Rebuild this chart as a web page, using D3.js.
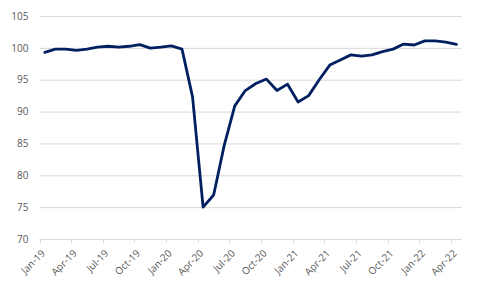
<!DOCTYPE html>
<html>
<head>
<meta charset="utf-8">
<script src="https://cdn.jsdelivr.net/npm/d3@7"></script>
<style>
    body { margin: 0; background: #fff; }
    text { font-family: "Open Sans", sans-serif; fill: #595959; }
</style>
</head>
<body>
<svg id="chart" width="482" height="293"></svg>
<script>
// Monthly index values, Jan-19 to Apr-22.
const months = ['Jan-19', 'Feb-19', 'Mar-19', 'Apr-19', 'May-19', 'Jun-19', 'Jul-19', 'Aug-19', 'Sep-19', 'Oct-19', 'Nov-19', 'Dec-19',
    'Jan-20', 'Feb-20', 'Mar-20', 'Apr-20', 'May-20', 'Jun-20', 'Jul-20', 'Aug-20', 'Sep-20', 'Oct-20', 'Nov-20', 'Dec-20',
    'Jan-21', 'Feb-21', 'Mar-21', 'Apr-21', 'May-21', 'Jun-21', 'Jul-21', 'Aug-21', 'Sep-21', 'Oct-21', 'Nov-21', 'Dec-21',
    'Jan-22', 'Feb-22', 'Mar-22', 'Apr-22'];
const values = [99.3, 99.8, 99.8, 99.6, 99.8, 100.1, 100.25, 100.1, 100.25, 100.5, 99.95, 100.1,
    100.3, 99.8, 92.3, 75.0, 76.9, 84.7, 90.9, 93.3, 94.4, 95.1, 93.3, 94.3,
    91.5, 92.5, 95.0, 97.3, 98.1, 98.9, 98.7, 98.9, 99.4, 99.8, 100.6, 100.45,
    101.1, 101.1, 100.9, 100.55];
const yTicks = [70, 75, 80, 85, 90, 95, 100, 105];

let svg = d3.select('#chart');

// Category axis, one band per month, ticks between categories.
let x = d3.scaleBand()
    .domain(months)
    .range([39.5, 461.7])
    .padding(0);

let y = d3.scaleLinear()
    .domain([70, 105])
    .range([239, 16]);

// Gridlines and y labels.
let gY = svg.append('g')
    .attr('transform', 'translate(39.5,0)')
    .call(d3.axisLeft(y).tickValues(yTicks).tickSize(-(461.7 - 39.5)).tickPadding(11));
gY.select('.domain').remove();
gY.selectAll('.tick line').attr('stroke', '#d9d9d9');
gY.selectAll('.tick text').style('font-size', '10px');

// Bottom axis line with a tick every third month.
let labelled = months.filter((d, i) => i % 3 === 0);
let gX = svg.append('g');
gX.append('line')
    .attr('x1', 39.5).attr('x2', 461.7)
    .attr('y1', y(70) + 0.5).attr('y2', y(70) + 0.5)
    .attr('stroke', '#d9d9d9');
gX.selectAll('line.tick')
    .data(labelled)
    .join('line')
    .attr('class', 'tick')
    .attr('x1', d => Math.round(x(d)) + 0.5)
    .attr('x2', d => Math.round(x(d)) + 0.5)
    .attr('y1', y(70))
    .attr('y2', y(70) + 4)
    .attr('stroke', '#d9d9d9');
gX.selectAll('text')
    .data(labelled)
    .join('text')
    .attr('text-anchor', 'end')
    .style('font-size', '10px')
    .attr('transform', d => 'translate(' + (x(d) + x.bandwidth() / 2 + 1) + ',' + (y(70) + 15) + ') rotate(-45)')
    .text(d => d);

// The series line.
let line = d3.line()
    .x((d, i) => x(months[i]) + x.bandwidth() / 2)
    .y(d => y(d));

svg.append('path')
    .datum(values)
    .attr('fill', 'none')
    .attr('stroke', '#002060')
    .attr('stroke-width', 2.8)
    .attr('stroke-linejoin', 'round')
    .attr('stroke-linecap', 'round')
    .attr('d', line);
</script>
</body>
</html>
